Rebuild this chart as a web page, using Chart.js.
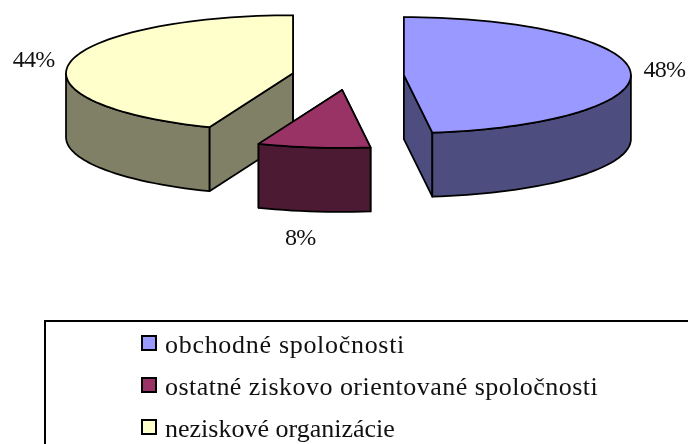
<!DOCTYPE html>
<html>
<head>
<meta charset="utf-8">
<script src="https://cdn.jsdelivr.net/npm/chart.js@4"></script>
<style>
    html, body { margin: 0; padding: 0; background: #fff; }
    #wrap { position: relative; width: 688px; height: 444px; overflow: hidden; }
    #legendBox {
        position: absolute; left: 44px; top: 320px; width: 660px; height: 140px;
        border: 2px solid #000; box-sizing: border-box;
        font: 26px "Liberation Serif", serif; color: #111;
    }
    .legend-row { position: absolute; left: 96px; white-space: nowrap; line-height: 28px; }
    .legend-box { position: absolute; left: -1px; top: 4px; width: 12px; height: 12px; border: 2px solid #000; }
    .legend-row span.txt { margin-left: 23px; }
</style>
</head>
<body>
<div id="wrap">
    <canvas id="pieChart" width="688" height="444"></canvas>
    <div id="legendBox"></div>
</div>
<script>
const categories = ["obchodné spoločnosti", "ostatné ziskovo orientované spoločnosti", "neziskové organizácie"];
const shares = [48, 8, 44];
const topColors = ["#9999FF", "#993366", "#FFFFCC"];
const wallColors = ["#4D4D80", "#4D1A33", "#808066"];
const explode = [55, 55, 57];
const labelRadius = [1.15, 1.47, 1.163];
const legendSpacing = [0.7, 0.46, 0];
const wallOrder = [2, 0, 1];

const squash = 0.2555;
const depth = 64;
const pieTop = 76;
const lineW = 1.75;

// y of the flat pie -> y of the tilted picture
function projY(chart, y) {
    let midY = (chart.chartArea.top + chart.chartArea.bottom) / 2;
    return pieTop + squash * (y - midY);
}

function outerPoints(chart, arc, from, to) {
    let pts = [];
    let steps = Math.max(2, Math.ceil((to - from) / 0.04));
    for (let i = 0; i <= steps; i++) {
        let a = from + (to - from) * i / steps;
        pts.push([arc.x + Math.cos(a) * arc.outerRadius, projY(chart, arc.y + Math.sin(a) * arc.outerRadius)]);
    }
    return pts;
}

function fillPoly(ctx, pts, color) {
    ctx.beginPath();
    pts.forEach((p, i) => i === 0 ? ctx.moveTo(p[0], p[1]) : ctx.lineTo(p[0], p[1]));
    ctx.closePath();
    ctx.fillStyle = color;
    ctx.fill();
    ctx.stroke();
}

function drawWalls(chart, arc, color) {
    let ctx = chart.ctx;
    let cx = arc.x, cy = projY(chart, arc.y);
    [arc.startAngle, arc.endAngle].forEach(a => {
        let e = outerPoints(chart, arc, a, a)[0];
        fillPoly(ctx, [[cx, cy], e, [e[0], e[1] + depth], [cx, cy + depth]], color);
    });
    // only the part of the rim that faces the viewer
    let from = Math.max(arc.startAngle, 0);
    let to = Math.min(arc.endAngle, Math.PI);
    if (to > from) {
        let top = outerPoints(chart, arc, from, to);
        let bottom = top.map(p => [p[0], p[1] + depth]).reverse();
        fillPoly(ctx, top.concat(bottom), color);
    }
}

const pie3d = {
    id: "pie3d",
    afterDatasetsUpdate(chart) {
        let arcs = chart.getDatasetMeta(0).data;
        let cx = (chart.chartArea.left + chart.chartArea.right) / 2;
        let cy = (chart.chartArea.top + chart.chartArea.bottom) / 2;
        arcs.forEach((arc, i) => {
            let mid = (arc.startAngle + arc.endAngle) / 2;
            arc.x = cx + Math.cos(mid) * explode[i];
            arc.y = cy + Math.sin(mid) * explode[i];
        });
    },
    beforeDatasetDraw(chart) {
        let ctx = chart.ctx;
        let arcs = chart.getDatasetMeta(0).data;
        ctx.save();
        ctx.strokeStyle = "#000";
        ctx.lineWidth = lineW;
        ctx.lineJoin = "round";
        wallOrder.forEach(i => drawWalls(chart, arcs[i], wallColors[i]));
        ctx.restore();
        ctx.save();
        let midY = (chart.chartArea.top + chart.chartArea.bottom) / 2;
        ctx.translate(0, pieTop);
        ctx.scale(1, squash);
        ctx.translate(0, -midY);
    },
    afterDatasetDraw(chart) {
        let ctx = chart.ctx;
        ctx.restore();
        let arcs = chart.getDatasetMeta(0).data;
        ctx.save();
        ctx.strokeStyle = "#000";
        ctx.lineWidth = lineW;
        ctx.lineJoin = "round";
        arcs.forEach(arc => {
            let pts = outerPoints(chart, arc, arc.startAngle, arc.endAngle);
            ctx.beginPath();
            ctx.moveTo(arc.x, projY(chart, arc.y));
            pts.forEach(p => ctx.lineTo(p[0], p[1]));
            ctx.closePath();
            ctx.stroke();
        });
        ctx.fillStyle = "#111";
        ctx.font = '24px "Liberation Serif", serif';
        ctx.letterSpacing = "-0.7px";
        ctx.textAlign = "center";
        ctx.textBaseline = "middle";
        arcs.forEach((arc, i) => {
            let mid = (arc.startAngle + arc.endAngle) / 2;
            let r = arc.outerRadius * labelRadius[i];
            let front = Math.sin(mid) > 0.5 ? depth : 0;
            ctx.fillText(shares[i] + "%", arc.x + Math.cos(mid) * r, projY(chart, arc.y + Math.sin(mid) * r) + front);
        });
        ctx.restore();
    }
};

document.addEventListener("DOMContentLoaded", function () {
    new Chart(document.getElementById("pieChart").getContext("2d"), {
        type: "pie",
        data: {
            labels: categories,
            datasets: [{
                data: shares,
                backgroundColor: topColors,
                borderWidth: 0,
                clip: false
            }]
        },
        options: {
            responsive: false,
            animation: false,
            radius: 227,
            layout: { padding: { left: 10 } },
            plugins: {
                legend: { display: false },
                tooltip: { enabled: false }
            }
        },
        plugins: [pie3d]
    });

    let box = document.getElementById("legendBox");
    categories.forEach((name, i) => {
        let row = document.createElement("div");
        row.className = "legend-row";
        row.style.top = (9 + i * 42) + "px";
        row.style.letterSpacing = legendSpacing[i] + "px";
        row.innerHTML = `<div class="legend-box" style="background:${topColors[i]}"></div><span class="txt">${name}</span>`;
        box.appendChild(row);
    });
});
</script>
</body>
</html>
